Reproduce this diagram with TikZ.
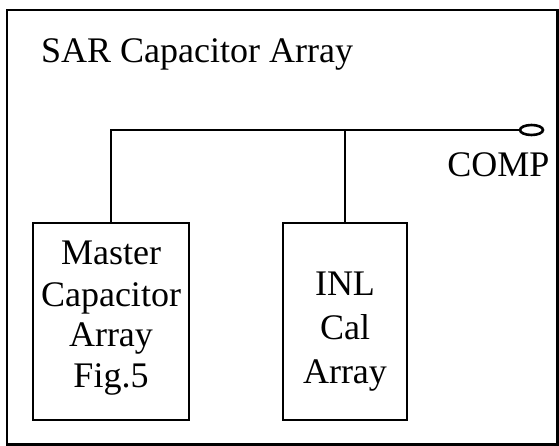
\documentclass[tikz,border=0pt]{standalone}
\usepackage{fontspec}
\setmainfont{Liberation Serif}
\usetikzlibrary{shapes.geometric}
\begin{document}
\begin{tikzpicture}[x=1pt,y=-1pt,
  every node/.style={font=\fontsize{36}{44}\selectfont, inner sep=0pt},
  ln/.style={line width=2.6pt},
  txt/.style={anchor=base},
  blk/.style={draw, line width=2.6pt, minimum width=156pt, minimum height=197pt}]
\useasboundingbox (0,0) rectangle (559,446);
\node[draw, line width=2.6pt, minimum width=550.5pt, minimum height=434.5pt] (outer) at (282.25,227.25) {};
\node[anchor=base west] (title) at (41,62.5) {SAR Capacitor Array};
\node[blk] (master) at (111,321.5) {};
\node[blk, minimum width=124pt] (inl) at (345,321.5) {};
\node[txt] (m1) at (111,265) {Master};
\node[txt] (m2) at (111,306) {Capacitor};
\node[txt] (m3) at (111,346) {Array};
\node[txt] (m4) at (111,387) {Fig.5};
\node[txt] (i1) at (345,295) {INL};
\node[txt] (i2) at (345,339.5) {Cal};
\node[txt] (i3) at (345,383) {Array};
\node[draw, ellipse, line width=2.6pt, minimum width=23pt, minimum height=10pt] (comp) at (531.5,130) {};
\node[txt] (complbl) at (498.5,177) {COMP};
\coordinate (tl) at (master.north |- comp.west);
\coordinate (ti) at (inl.north |- comp.west);
\draw[ln] (master.north) -- (tl) -- (comp.west);
\draw[ln] (inl.north) -- (ti);
\end{tikzpicture}
\end{document}
